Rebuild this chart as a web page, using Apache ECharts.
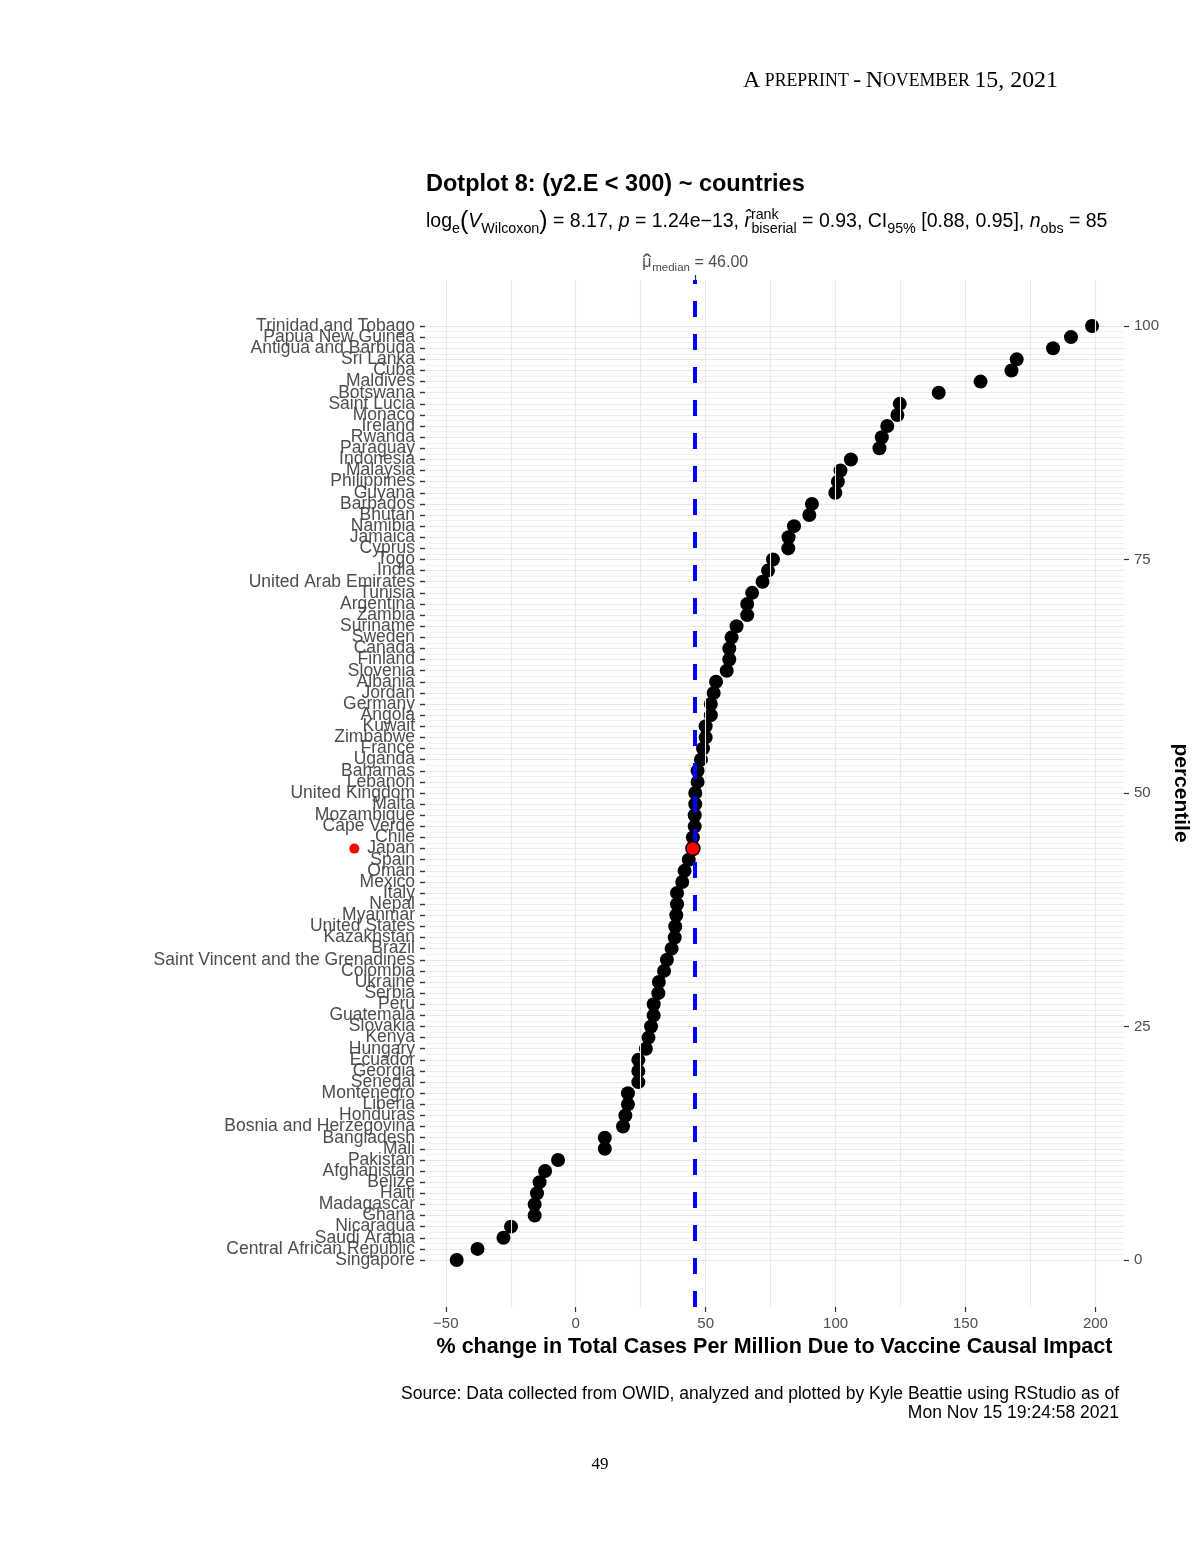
<!DOCTYPE html>
<html>
<head>
<meta charset="utf-8">
<script src="https://cdn.jsdelivr.net/npm/echarts@6/dist/echarts.min.js"></script>
<style>
html,body{margin:0;padding:0;background:#fff;}
#chart{width:1200px;height:1553px;}
</style>
</head>
<body>
<div id="chart"></div>
<script>
// Countries from bottom (lowest) to top (highest)
const countries = [
  'Singapore','Central African Republic','Saudi Arabia','Nicaragua','Ghana','Madagascar','Haiti','Belize',
  'Afghanistan','Pakistan','Mali','Bangladesh','Bosnia and Herzegovina','Honduras','Liberia','Montenegro',
  'Senegal','Georgia','Ecuador','Hungary','Kenya','Slovakia','Guatemala','Peru','Serbia','Ukraine','Colombia',
  'Saint Vincent and the Grenadines','Brazil','Kazakhstan','United States','Myanmar','Nepal','Italy','Mexico',
  'Oman','Spain','Japan','Chile','Cape Verde','Mozambique','Malta','United Kingdom','Lebanon','Bahamas',
  'Uganda','France','Zimbabwe','Kuwait','Angola','Germany','Jordan','Albania','Slovenia','Finland','Canada',
  'Sweden','Suriname','Zambia','Argentina','Tunisia','United Arab Emirates','India','Togo','Cyprus','Jamaica',
  'Namibia','Bhutan','Barbados','Guyana','Philippines','Malaysia','Indonesia','Paraguay','Rwanda','Ireland',
  'Monaco','Saint Lucia','Botswana','Maldives','Cuba','Sri Lanka','Antigua and Barbuda','Papua New Guinea',
  'Trinidad and Tobago'
];
const pctChange = [
  -45.8,-37.8,-27.8,-24.9,-15.8,-15.8,-14.9,-13.9,
  -11.8,-6.8,11.2,11.2,18.2,19.1,20.1,20.1,
  24.1,24.1,24.1,27.0,28.0,29.0,30.0,30.0,31.8,32.0,34.0,
  35.1,36.9,38.1,38.3,38.7,39.0,39.0,41.0,
  41.9,43.5,45.1,45.1,45.8,45.8,46.0,46.0,46.9,46.9,
  48.2,49.0,50.0,50.0,52.0,52.0,53.1,54.0,58.1,59.1,59.1,
  60.0,61.9,66.0,66.0,67.9,71.9,74.0,75.9,81.8,81.9,
  84.0,89.9,90.9,99.9,100.9,101.9,105.9,116.9,117.8,119.9,
  123.8,124.7,139.7,155.8,167.7,169.7,183.7,190.6,
  198.7
];
const highlightCountry = 'Japan';
const medianValue = 46;
const xTicks = [-50, 0, 50, 100, 150, 200];
const xMinorTicks = [-25, 25, 75, 125, 175];
const percentileTicks = [0, 25, 50, 75, 100];

const FONT = "'Liberation Sans', Arial, Helvetica, sans-serif";
const SERIF = "'Liberation Serif', 'DejaVu Serif', serif";

const points = countries.map((c, i) => [pctChange[i], i, c]);
const highlightPts = points.filter(p => p[2] === highlightCountry);

const chart = echarts.init(document.getElementById('chart'), null, {renderer: 'canvas'});

const gridLineStyle = {color: '#e9e9e9', width: 1.1, type: 'solid'};

const subRich = {
  n: {fontFamily: FONT, fontSize: 19.5, fontWeight: 'normal', color: '#000', lineHeight: 28},
  it: {fontFamily: FONT, fontSize: 19.5, fontWeight: 'normal', fontStyle: 'italic', color: '#000', lineHeight: 28},
  big: {fontFamily: FONT, fontSize: 25, fontWeight: 'normal', color: '#000', lineHeight: 28},
  sub: {fontFamily: FONT, fontSize: 14.3, fontWeight: 'normal', color: '#000', lineHeight: 13, verticalAlign: 'bottom'},
  sup0: {fontFamily: FONT, fontSize: 14.3, fontWeight: 'normal', color: '#000', lineHeight: 13, verticalAlign: 'top', width: 0.5}
};

const option = {
  backgroundColor: '#ffffff',
  animation: false,
  textStyle: {fontFamily: FONT},
  title: [
    {
      text: '{b|A} {s|PREPRINT} {b|-} {b|N}{s|OVEMBER} {b|15, 2021}',
      right: 142, top: 69, padding: 0,
      textStyle: {
        fontFamily: SERIF, fontWeight: 'normal',
        rich: {
          b: {fontFamily: SERIF, fontSize: 23.9, fontWeight: 'normal', color: '#000'},
          s: {fontFamily: SERIF, fontSize: 17.8, fontWeight: 'normal', color: '#000'}
        }
      }
    },
    {
      text: 'Dotplot 8: (y2.E < 300) ~ countries',
      left: 426, top: 173, padding: 0,
      textStyle: {fontFamily: FONT, fontSize: 23.5, fontWeight: 'bold', color: '#000'}
    },
    {
      text: '{n|log}{sub|e}{big|(}{it|V}{sub|Wilcoxon}{big|)}{n| = 8.17, }{it|p}{n| = 1.24e\u221213, }{it|r\u0302}{sup0|rank}{sub|biserial}{n| = 0.93, CI}{sub|95%}{n| [0.88, 0.95], }{it|n}{sub|obs}{n| = 85}',
      left: 426, top: 208, padding: 0,
      textStyle: {fontFamily: FONT, fontWeight: 'normal', rich: subRich}
    },
    {
      text: '49',
      left: 'center', top: 1456, padding: 0,
      textStyle: {fontFamily: SERIF, fontSize: 17, color: '#000', fontWeight: 'normal'}
    }
  ],
  graphic: [
    {
      type: 'text', right: 81, top: 1384,
      style: {
        text: 'Source: Data collected from OWID, analyzed and plotted by Kyle Beattie using RStudio as of\nMon Nov 15 19:24:58 2021',
        textAlign: 'right', fill: '#000',
        font: "17.5px 'Liberation Sans', Arial, sans-serif", lineHeight: 19.5
      }
    }
  ],
  grid: [
    {left: 425, right: 76, top: 280, bottom: 246, containLabel: false},
    {left: 425, right: 76, top: 326, bottom: 293, containLabel: false}
  ],
  xAxis: [
    {
      gridIndex: 0, type: 'value', min: -58, max: 211, position: 'bottom',
      axisLine: {show: false, onZero: false},
      axisTick: {show: true, customValues: xTicks, length: 5, lineStyle: {color: '#333', width: 1.2}},
      axisLabel: {show: true, customValues: xTicks, color: '#4d4d4d', fontSize: 15, margin: 9, fontFamily: FONT,
        formatter: v => (v < 0 ? '\u2212' + Math.abs(v) : String(v))},
      splitLine: {show: false},
      name: '% change in Total Cases Per Million Due to Vaccine Causal Impact',
      nameLocation: 'middle', nameGap: 28,
      nameTextStyle: {fontFamily: FONT, fontSize: 21.5, fontWeight: 'bold', color: '#000'}
    },
    {
      gridIndex: 0, type: 'value', min: -58, max: 211, position: 'top',
      axisLine: {show: false, onZero: false},
      axisTick: {show: true, customValues: [medianValue], length: 5, lineStyle: {color: '#333', width: 1.2}},
      axisLabel: {show: true, customValues: [medianValue], margin: 6,
        formatter: () => '{mu|\u03bc}{hat|\u02c6}{sub|median}{t| = ' + medianValue.toFixed(2) + '}',
        rich: {
          mu: {fontFamily: FONT, fontSize: 16, color: '#4d4d4d', lineHeight: 22, width: 0.5, align: 'left'},
          hat: {fontFamily: FONT, fontSize: 26, color: '#4d4d4d', lineHeight: 12, verticalAlign: 'top', width: 9.5, align: 'left'},
          sub: {fontFamily: FONT, fontSize: 11.5, color: '#4d4d4d', lineHeight: 10, verticalAlign: 'bottom', align: 'left'},
          t: {fontFamily: FONT, fontSize: 16, color: '#4d4d4d', lineHeight: 22, align: 'left'}
        }
      },
      splitLine: {show: false}
    },
    {
      gridIndex: 1, type: 'value', min: -58, max: 211, show: false,
      axisLine: {onZero: false}
    }
  ],
  yAxis: [
    {gridIndex: 0, type: 'value', min: -5, max: 105, show: false, axisLine: {onZero: false}},
    {
      // numeric rank axis: carries the points and the horizontal grid lines
      gridIndex: 1, type: 'value', min: 0, max: countries.length - 1, interval: 1, position: 'left',
      axisLine: {show: false, onZero: false},
      axisTick: {show: false},
      axisLabel: {show: false},
      splitLine: {show: true, lineStyle: gridLineStyle},
      minorTick: {show: false, splitNumber: 2},
      minorSplitLine: {show: true, lineStyle: {color: '#eeeeee', width: 0.8}}
    },
    {
      gridIndex: 1, type: 'value', min: 0, max: 100, interval: 25, position: 'right',
      axisLine: {show: false, onZero: false},
      axisTick: {show: true, length: 5, lineStyle: {color: '#333', width: 1.2}},
      axisLabel: {show: true, margin: 10, color: '#4d4d4d', fontSize: 15, fontFamily: FONT},
      splitLine: {show: false},
      name: 'percentile', nameLocation: 'middle', nameRotate: -90, nameGap: 38,
      nameTextStyle: {fontFamily: FONT, fontSize: 21, fontWeight: 'bold', color: '#000'}
    },
    {
      // country labels
      gridIndex: 1, type: 'category', data: countries, boundaryGap: false, position: 'left',
      axisLine: {show: false, onZero: false},
      axisTick: {show: true, interval: 0, length: 5, lineStyle: {color: '#333', width: 1.4}},
      axisLabel: {
        show: true, interval: 0, hideOverlap: false,
        margin: 10, color: '#4d4d4d', fontSize: 17.5, fontFamily: FONT,
        formatter: name => (name === highlightCountry ? '{dot|}{gap|}{c|' + name + '}' : name),
        rich: {
          dot: {width: 10, height: 10, borderRadius: 5, backgroundColor: '#ff0000'},
          gap: {width: 8},
          c: {fontSize: 17.5, color: '#4d4d4d', fontFamily: FONT}
        }
      },
      splitLine: {show: false}
    }
  ],
  series: [
    {
      type: 'scatter', xAxisIndex: 0, yAxisIndex: 0, data: [], z: 1, silent: true,
      markLine: {
        silent: true, symbol: 'none', animation: false, label: {show: false},
        lineStyle: gridLineStyle,
        data: xTicks.concat(xMinorTicks).map(v => ({xAxis: v}))
      }
    },
    {
      type: 'scatter', xAxisIndex: 2, yAxisIndex: 1, z: 3,
      symbol: 'circle', symbolSize: 14,
      itemStyle: {color: '#000000', opacity: 1},
      data: points.filter(p => p[2] !== highlightCountry)
    },
    {
      type: 'scatter', xAxisIndex: 0, yAxisIndex: 0, data: [], z: 4, silent: true,
      markLine: {
        silent: true, symbol: 'none', animation: false, label: {show: false},
        lineStyle: {color: '#0000ff', width: 4, type: [16, 17]},
        data: [{xAxis: medianValue}]
      }
    },
    {
      type: 'scatter', xAxisIndex: 2, yAxisIndex: 1, z: 5,
      symbol: 'circle', symbolSize: 14,
      itemStyle: {color: '#ff0000', borderColor: '#000000', borderWidth: 1.5, opacity: 1},
      data: highlightPts
    }
  ]
};
chart.setOption(option);
</script>
</body>
</html>
